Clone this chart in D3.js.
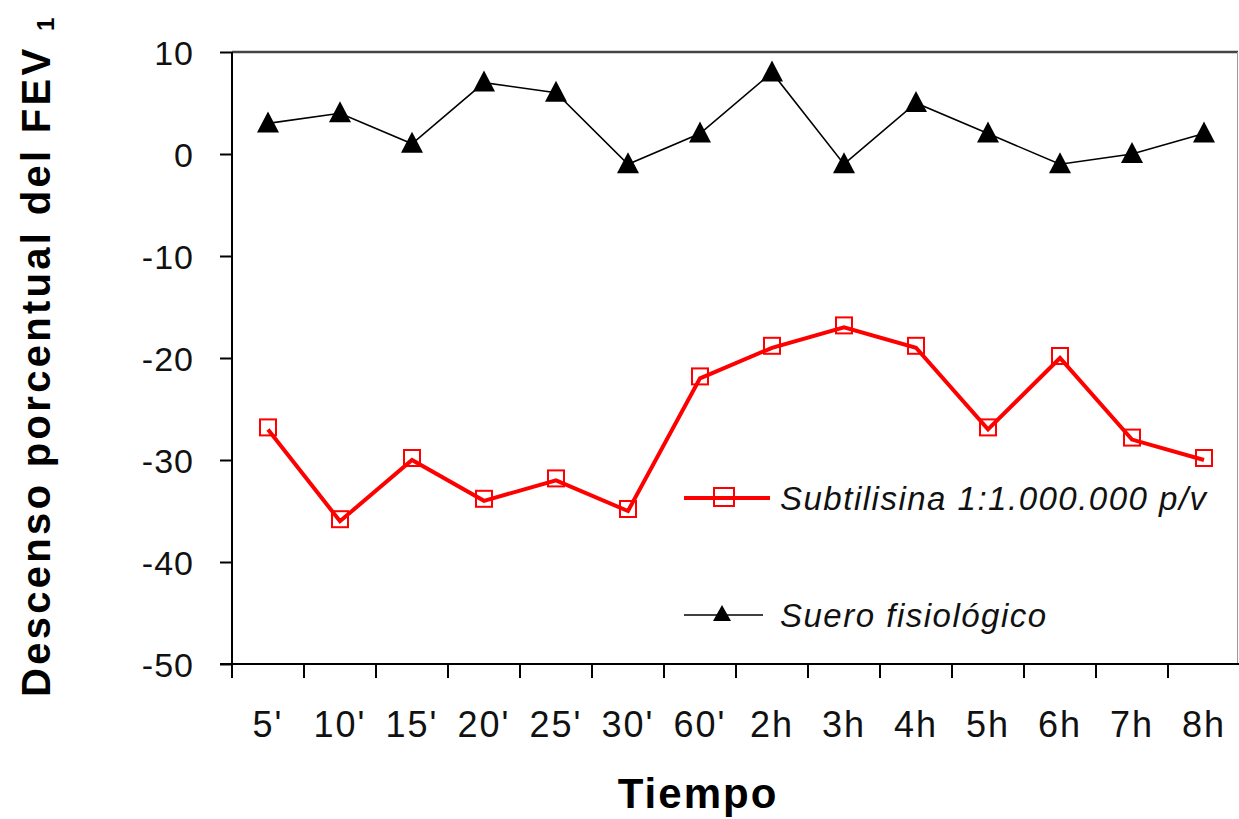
<!DOCTYPE html>
<html>
<head>
<meta charset="utf-8">
<script src="https://cdn.jsdelivr.net/npm/d3@7"></script>
<style>
  body { margin: 0; background: #fff; }
  svg { display: block; font-family: "Liberation Sans", Arial, sans-serif; }
</style>
</head>
<body>
<script>
// categories on the time axis
const tiempos = ["5'", "10'", "15'", "20'", "25'", "30'", "60'", "2h", "3h", "4h", "5h", "6h", "7h", "8h"];
// % FEV1 fall, allergen challenge
const subtilisina = [-27, -36, -30, -34, -32, -35, -22, -19, -17, -19, -27, -20, -28, -30];
// % FEV1 fall, saline control
const suero = [3, 4, 1, 7, 6, -1, 2, 8, -1, 5, 2, -1, 0, 2];
const yTicks = [10, 0, -10, -20, -30, -40, -50];

const width = 1239, height = 819;
const plotLeft = 232, plotRight = 1240, plotTop = 52, plotBottom = 664;

const svg = d3.select("body").append("svg")
    .attr("width", width)
    .attr("height", height);

const x = d3.scaleBand()
    .domain(tiempos)
    .range([plotLeft, plotRight])
    .padding(0);

const y = d3.scaleLinear()
    .domain([-50, 10])
    .range([plotBottom, plotTop]);

const cx = d => x(d) + x.bandwidth() / 2;

// frame: top and right border
svg.append("line")
    .attr("x1", plotLeft).attr("x2", width - 1)
    .attr("y1", plotTop).attr("y2", plotTop)
    .style("stroke", "#444").style("stroke-width", 2.5);
svg.append("line")
    .attr("x1", width - 1.5).attr("x2", width - 1.5)
    .attr("y1", plotTop).attr("y2", plotBottom)
    .style("stroke", "#999").style("stroke-width", 1);

// y axis
const yAxis = svg.append("g")
    .attr("transform", "translate(" + plotLeft + ",0)")
    .call(d3.axisLeft(y).tickValues(yTicks).tickSize(12).tickPadding(26).tickFormat(d => String(d)));
yAxis.select(".domain").remove();
yAxis.append("line")
    .attr("x1", 0).attr("x2", 0)
    .attr("y1", plotTop).attr("y2", plotBottom + 14)
    .style("stroke", "#000").style("stroke-width", 2);
yAxis.selectAll(".tick line").style("stroke", "#000").style("stroke-width", 2);
yAxis.selectAll(".tick text")
    .style("font-size", "34px")
    .style("letter-spacing", "1px")
    .style("fill", "#111")
    .attr("dy", "0.36em");

// x axis: ticks on category boundaries
const xAxis = svg.append("g")
    .attr("transform", "translate(0," + plotBottom + ")");
xAxis.append("line")
    .attr("x1", plotLeft - 12).attr("x2", width)
    .attr("y1", 0).attr("y2", 0)
    .style("stroke", "#000").style("stroke-width", 2);
xAxis.selectAll(".xtick")
    .data(tiempos.slice(1))
    .enter().append("line")
    .attr("class", "xtick")
    .attr("x1", d => x(d)).attr("x2", d => x(d))
    .attr("y1", 0).attr("y2", 14)
    .style("stroke", "#000").style("stroke-width", 2);
xAxis.selectAll(".xlabel")
    .data(tiempos)
    .enter().append("text")
    .attr("class", "xlabel")
    .attr("x", d => cx(d))
    .attr("y", 73)
    .attr("text-anchor", "middle")
    .style("font-size", "36px")
    .style("letter-spacing", "2px")
    .style("fill", "#111")
    .text(d => d);

// axis titles
svg.append("text")
    .attr("x", 698)
    .attr("y", 808)
    .attr("text-anchor", "middle")
    .style("font-size", "42px")
    .style("font-weight", "bold")
    .style("letter-spacing", "2px")
    .text("Tiempo");

const yTitle = svg.append("text")
    .attr("transform", "translate(50,697) rotate(-90)")
    .style("font-size", "40px")
    .style("font-weight", "bold")
    .style("letter-spacing", "3.3px");
yTitle.append("tspan").text("Descenso porcentual del FEV ");
yTitle.append("tspan")
    .attr("dy", 4)
    .style("font-size", "24px")
    .text("1");

// lines
const line = d3.line()
    .x((d, i) => cx(tiempos[i]))
    .y(d => y(d));

svg.append("path")
    .datum(suero)
    .attr("d", line)
    .style("fill", "none")
    .style("stroke", "#000")
    .style("stroke-width", 1.6);

svg.append("path")
    .datum(subtilisina)
    .attr("d", line)
    .style("fill", "none")
    .style("stroke", "#ff0000")
    .style("stroke-width", 4);

// markers
const triPath = "M0,-12L11,9L-11,9Z";

svg.selectAll(".tri")
    .data(suero)
    .enter().append("path")
    .attr("class", "tri")
    .attr("transform", (d, i) => "translate(" + cx(tiempos[i]) + "," + y(d) + ")")
    .attr("d", triPath)
    .style("fill", "#000");

svg.selectAll(".sq")
    .data(subtilisina)
    .enter().append("rect")
    .attr("class", "sq")
    .attr("x", (d, i) => cx(tiempos[i]) - 8)
    .attr("y", d => y(d) - 10)
    .attr("width", 16)
    .attr("height", 16)
    .style("fill", "none")
    .style("stroke", "#ff0000")
    .style("stroke-width", 2);

// legend
const legend = [
    { name: "Subtilisina 1:1.000.000 p/v", color: "#ff0000", w: 4, y: 498, mark: "sq" },
    { name: "Suero fisiológico", color: "#000", w: 1.6, y: 615, mark: "tri" }
];
const lg = svg.selectAll(".legend")
    .data(legend)
    .enter().append("g")
    .attr("class", "legend")
    .attr("transform", d => "translate(0," + d.y + ")");
lg.append("line")
    .attr("x1", 684).attr("x2", d => d.mark === "sq" ? 770 : 763)
    .attr("y1", 0).attr("y2", 0)
    .style("stroke", d => d.color)
    .style("stroke-width", d => d.w);
lg.filter(d => d.mark === "sq").append("rect")
    .attr("x", 714).attr("y", -10)
    .attr("width", 20).attr("height", 18)
    .style("fill", "none")
    .style("stroke", "#ff0000")
    .style("stroke-width", 2);
lg.filter(d => d.mark === "tri").append("path")
    .attr("transform", "translate(722,0)")
    .attr("d", "M0,-10L9,6L-9,6Z")
    .style("fill", "#000");
lg.append("text")
    .attr("x", 780)
    .attr("y", 12)
    .style("font-size", "33px")
    .style("font-style", "italic")
    .style("letter-spacing", "1.5px")
    .style("fill", "#111")
    .text(d => d.name);
</script>
</body>
</html>
